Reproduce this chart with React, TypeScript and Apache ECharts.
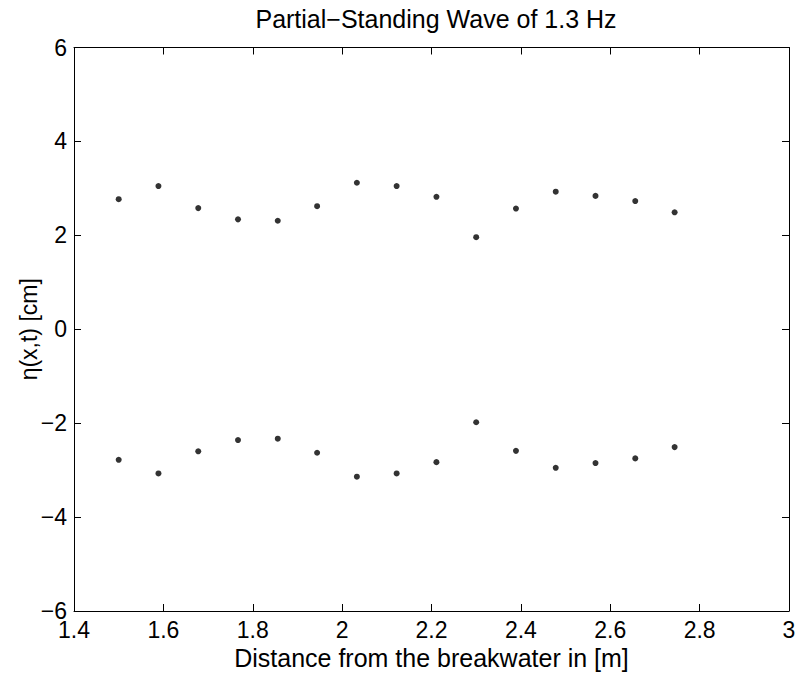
import React, { useEffect, useRef } from "react";
import * as echarts from "echarts";

const xPositions = [1.5, 1.589, 1.678, 1.767, 1.856, 1.944, 2.033, 2.122, 2.211, 2.3, 2.389, 2.478, 2.567, 2.656, 2.744];
const upperValues = [2.77, 3.05, 2.58, 2.34, 2.31, 2.62, 3.12, 3.05, 2.82, 1.96, 2.57, 2.93, 2.84, 2.73, 2.49];
const lowerValues = [-2.78, -3.07, -2.6, -2.36, -2.33, -2.63, -3.14, -3.07, -2.83, -1.98, -2.59, -2.95, -2.85, -2.75, -2.51];

const titleText = "Partial\u2212Standing Wave of 1.3 Hz";
const xLabel = "Distance from the breakwater in [m]";
const yLabel = "\u03b7(x,t) [cm]";

const FONT = "'Liberation Sans', Arial, Helvetica, sans-serif";

export default function App() {
  const ref = useRef<HTMLDivElement>(null);
  useEffect(() => {
    if (!ref.current) return;
    const chart = echarts.init(ref.current, null, { renderer: "svg" });
    const fmt = (v: number) => String(+v.toFixed(2)).replace("-", "\u2212");
    const axisCommon = {
      axisLine: { show: true, onZero: false, lineStyle: { color: "#000", width: 1 } },
      axisTick: { show: true, inside: true, length: 7, lineStyle: { color: "#000", width: 1 } },
      splitLine: { show: false },
    };
    const upper = xPositions.map((x, i) => [x, upperValues[i]]);
    const lower = xPositions.map((x, i) => [x, lowerValues[i]]);
    chart.setOption({
      animation: false,
      backgroundColor: "#fff",
      textStyle: { fontFamily: FONT },
      title: {
        text: titleText,
        left: 431,
        textAlign: "center",
        top: 1,
        textStyle: { fontFamily: FONT, fontSize: 25, fontWeight: "normal", color: "#000" },
      },
      grid: { left: 74, right: 13, top: 47.5, bottom: 68, containLabel: false },
      xAxis: [
        {
          type: "value",
          min: 1.4,
          max: 3,
          interval: 0.2,
          position: "bottom",
          name: xLabel,
          nameLocation: "middle",
          nameGap: 33,
          nameTextStyle: { fontFamily: FONT, fontSize: 25, color: "#000" },
          ...axisCommon,
          axisLabel: { show: true, margin: 7, fontFamily: FONT, fontSize: 23, color: "#000", formatter: fmt },
        },
        {
          type: "value",
          min: 1.4,
          max: 3,
          interval: 0.2,
          position: "top",
          ...axisCommon,
          axisLabel: { show: false },
        },
      ],
      yAxis: [
        {
          type: "value",
          min: -6,
          max: 6,
          interval: 2,
          position: "left",
          name: yLabel,
          nameLocation: "middle",
          nameGap: 34,
          nameMoveOverlap: false,
          nameTextStyle: { fontFamily: FONT, fontSize: 23, color: "#000" },
          ...axisCommon,
          axisLabel: { show: true, margin: 7, fontFamily: FONT, fontSize: 23, color: "#000", formatter: fmt },
        },
        {
          type: "value",
          min: -6,
          max: 6,
          interval: 2,
          position: "right",
          ...axisCommon,
          axisLabel: { show: false },
        },
      ],
      series: [
        {
          type: "scatter",
          data: upper,
          symbol: "circle",
          symbolSize: 6,
          itemStyle: { color: "#000" },
        },
        {
          type: "scatter",
          data: lower,
          symbol: "circle",
          symbolSize: 6,
          itemStyle: { color: "#000" },
        },
      ],
    });
    return () => chart.dispose();
  }, []);
  return (
    <div
      ref={ref}
      style={{ position: "fixed", left: 0, top: 0, width: 802, height: 679, background: "#fff" }}
    />
  );
}
